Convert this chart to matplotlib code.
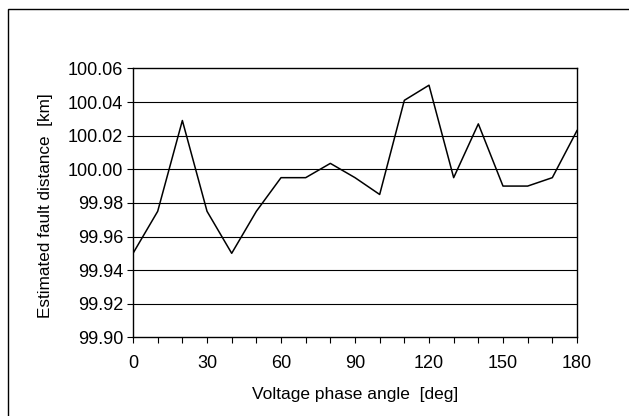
import matplotlib.pyplot as plt
from matplotlib.patches import Rectangle

plt.rcParams['font.family'] = ['Liberation Sans', 'DejaVu Sans']
plt.rcParams['font.size'] = 12.5

# Data
angle_deg = [0, 10, 20, 30, 40, 50, 60, 70, 80, 90, 100, 110, 120, 130, 140, 150, 160, 170, 180]
distance_km = [99.950, 99.975, 100.029, 99.975, 99.950, 99.975, 99.995, 99.995, 100.0035, 99.995,
               99.985, 100.041, 100.050, 99.995, 100.027, 99.990, 99.990, 99.995, 100.023]

x_major = [0, 30, 60, 90, 120, 150, 180]
x_minor = list(range(0, 181, 10))
y_ticks = [99.90, 99.92, 99.94, 99.96, 99.98, 100.00, 100.02, 100.04, 100.06]

fig = plt.figure(figsize=(6.29, 4.16), dpi=100)
ax = fig.add_axes([0.2115, 0.189, 0.7058, 0.6466])

# horizontal gridlines
for yv in y_ticks[1:-1]:
    ax.axhline(yv, color='black', linewidth=0.8, zorder=1)

ax.plot(angle_deg, distance_km, color='black', linewidth=1.1, zorder=3)

ax.set_xlim(0, 180)
ax.set_ylim(99.90, 100.06)
ax.set_xticks(x_major)
ax.set_xticks(x_minor, minor=True)
ax.set_yticks(y_ticks)
ax.set_yticklabels([f'{v:.2f}' for v in y_ticks])
ax.tick_params(axis='both', which='both', direction='out', length=4, width=0.8,
               color='black', labelsize=13)
ax.tick_params(axis='x', pad=9)
ax.tick_params(axis='y', pad=3)

for sp in ax.spines.values():
    sp.set_linewidth(1.0)
    sp.set_color('black')

ax.set_xlabel('Voltage phase angle  [deg]', fontsize=12.5)
ax.set_ylabel('Estimated fault distance  [km]', fontsize=12.3)
ax.xaxis.set_label_coords(0.5, -0.185)
ax.yaxis.set_label_coords(-0.18, 0.49)

# outer frame of the chart area (right and bottom edges lie outside the image)
fig.patches.append(Rectangle((8 / 629, -0.1), 1.2, (416 - 9) / 416 + 0.1,
                             transform=fig.transFigure, fill=False,
                             edgecolor='black', linewidth=1.0, clip_on=False))

fig.savefig('out.png', dpi=100)
